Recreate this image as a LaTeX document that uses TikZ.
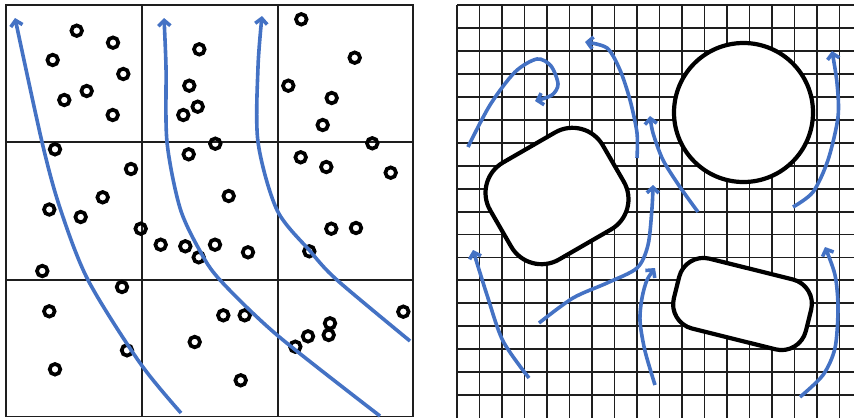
\documentclass[tikz,border=0pt]{standalone}
\definecolor{flowblue}{RGB}{68,114,196}
\definecolor{gridgray}{RGB}{30,30,30}
\usepackage{tikz}
\usetikzlibrary{arrows.meta}

\begin{document}
\begin{tikzpicture}[x=1pt,y=-1pt,
  cellline/.style={gridgray,line width=1.9pt},
  meshline/.style={gridgray,line width=1.9pt},
  particle/.style={black,line width=3.7pt},
  obstacle/.style={black,line width=4.2pt,fill=white},
  flow/.style={flowblue,line width=3.6pt,-{Straight Barb[length=5.5pt,width=12pt]}}]
\useasboundingbox (0,0) rectangle (854,418);
\draw[cellline] (6,5) rectangle (413,416.5);
\draw[cellline] (142,5) -- (142,416.5) (278,5) -- (278,416.5);
\draw[cellline] (6,142) -- (413,142) (6,280) -- (413,280);
\foreach \x/\y in {76.7/30.7,113/42.7,52.7/60,123.3/74,86.7/91,64.3/100,112.7/115,55/149.3,131/169,102.7/197.3,49.3/209.5,
  199.3/49.3,189.3/85.7,197.7/106.7,183.3/115,215.3/143.7,188.7/154.3,228.7/196,
  301.3/19.3,354.7/57.7,288.3/85.7,331.7/98,322.7/125,372.3/143.3,300.7/157.3,326.3/167,390.7/172.7,
  80.7/217,140.7/228.7,160.7/244.7,185.3/246.3,198.7/257.3,215/244.7,248/252.3,331.3/228.7,356/228,309.3/251.3,
  42.3/271,122/287,49.3/311.3,223.3/315.3,244.7/315.3,403.3/311.7,330/323.3,328.7/335,308/336.3,295.3/346.7,
  194.7/342,127/350.3,55/369.3,240.7/380.3}
  \draw[particle] (\x,\y) circle (5.3);
\draw[flow] plot[smooth] coordinates {(181,413) (140,363) (88,280) (60,208) (42,142) (15,18)};
\draw[flow] plot[smooth] coordinates {(380,416) (277,335) (220,280) (200,251) (180,208) (167,142) (166,67) (164,18)};
\draw[flow] plot[smooth] coordinates {(410,341) (337,280) (310,251) (277,210) (258,142) (258,67) (262,16)};

\foreach \i in {0,...,17}
  \draw[meshline] ({457+22.5*\i},5) -- ({457+22.5*\i},418);
\foreach \j in {0,...,17}
  \draw[meshline] (457,{5+22.95*\j}) -- (854,{5+22.95*\j});
\draw[obstacle] (743.5,112.5) circle (69.5);
\draw[obstacle,rotate around={30:(557,196)},rounded corners=35pt] (492,140) rectangle (622,252);
\draw[obstacle,rotate around={-14:(742.5,304)},rounded corners=25pt] (674.5,268) rectangle (810.5,340);
\draw[flow] plot[smooth] coordinates {(468,147) (490,105) (515,72) (537,59) (551,66) (558,84) (552,95) (535,101)};
\draw[flow] plot[smooth] coordinates {(637,158) (637,133) (630,100) (620,70) (607,48) (585,42)};
\draw[flow] plot[smooth] coordinates {(698,212) (680,187) (663,160) (653,133) (650,116)};
\draw[flow] plot[smooth] coordinates {(529,378) (503,341) (487,295) (473,250)};
\draw[flow] plot[smooth] coordinates {(539,323) (573,298) (607,283) (637,268) (648,245) (652,208) (653,185)};
\draw[flow] plot[smooth] coordinates {(655,385) (645,351) (640,321) (642,298) (647,280) (655,268)};
\draw[flow] plot[smooth] coordinates {(793,207) (813,192) (828,160) (838,117) (837,83) (832,51)};
\draw[flow] plot[smooth] coordinates {(800,397) (823,375) (835,348) (838,308) (835,275) (825,247)};
\end{tikzpicture}
\end{document}
